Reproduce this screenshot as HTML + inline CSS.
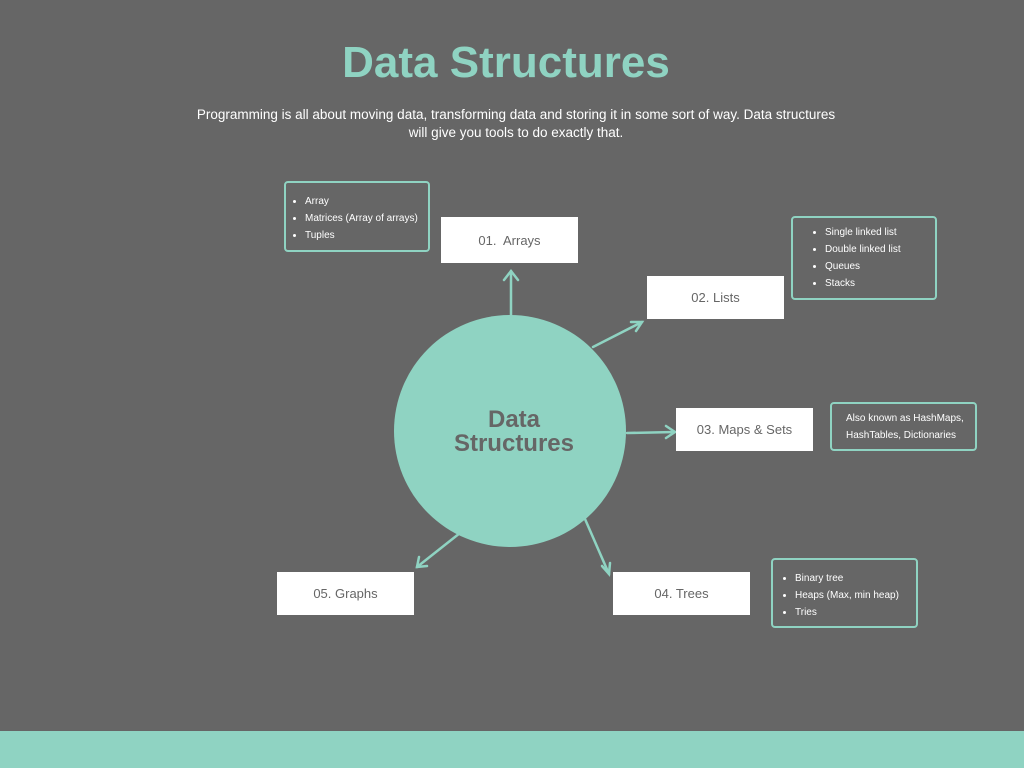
<!DOCTYPE html>
<html><head><style>
body{margin:0;width:1024px;height:768px;background:#666666;position:relative;overflow:hidden;font-family:"Liberation Sans",sans-serif}
.a{position:absolute}
.box{position:absolute;background:#fff;color:#666;font-size:13px;display:flex;align-items:center;justify-content:center}
.ol{position:absolute;border:2px solid #8fd3c2;border-radius:4px;box-sizing:border-box;color:#fff;font-size:10px}
.ol ul{margin:0;padding:0 0 0 19px;line-height:17px}
</style></head><body>
<div class="a" style="left:0;top:38px;width:1012px;text-align:center;font-size:44px;font-weight:bold;color:#8fd3c2">Data Structures</div>
<div class="a" style="left:186px;top:106px;width:660px;text-align:center;font-size:13.5px;color:#fff;line-height:18px">Programming is all about moving data, transforming data and storing it in some sort of way. Data structures will give you tools to do exactly that.</div>
<svg class="a" style="left:0;top:0" width="1024" height="768">
<circle cx="510" cy="431" r="116" fill="#8fd3c2"/>
<g stroke="#8fd3c2" stroke-width="2.5" fill="none" stroke-linecap="round">
<line x1="511" y1="315" x2="511" y2="271"/><polyline points="504,280 511,271 518,280"/>
<line x1="593" y1="347" x2="642" y2="322"/><polyline points="631,322 642,322 636,331"/>
<line x1="627" y1="433" x2="675" y2="432"/><polyline points="666,426 675,432 666,438"/>
<line x1="585" y1="519" x2="609" y2="574"/><polyline points="602,566 609,574 610,563"/>
<line x1="460" y1="533" x2="417" y2="567"/><polyline points="419,557 417,567 427,566"/>
</g>
<text x="514" y="427" text-anchor="middle" font-family="Liberation Sans" font-weight="bold" font-size="24" fill="#666">Data</text>
<text x="514" y="451" text-anchor="middle" font-family="Liberation Sans" font-weight="bold" font-size="24" fill="#666">Structures</text>
</svg>
<div class="box" style="left:441px;top:217px;width:137px;height:46px">01.&nbsp; Arrays</div>
<div class="box" style="left:647px;top:276px;width:137px;height:43px">02. Lists</div>
<div class="box" style="left:676px;top:408px;width:137px;height:43px">03. Maps &amp; Sets</div>
<div class="box" style="left:613px;top:572px;width:137px;height:43px">04. Trees</div>
<div class="box" style="left:277px;top:572px;width:137px;height:43px">05. Graphs</div>
<div class="ol" style="left:284px;top:181px;width:146px;height:71px;padding-top:10px"><ul><li>Array</li><li>Matrices (Array of arrays)</li><li>Tuples</li></ul></div>
<div class="ol" style="left:791px;top:216px;width:146px;height:84px;padding-top:6px"><ul style="padding-left:32px"><li>Single linked list</li><li>Double linked list</li><li>Queues</li><li>Stacks</li></ul></div>
<div class="ol" style="left:830px;top:402px;width:147px;height:49px;padding:6px 0 0 14px;line-height:17px">Also known as HashMaps, HashTables, Dictionaries</div>
<div class="ol" style="left:771px;top:558px;width:147px;height:70px;padding-top:10px"><ul style="padding-left:22px"><li>Binary tree</li><li>Heaps (Max, min heap)</li><li>Tries</li></ul></div>
<div class="a" style="left:0;top:731px;width:1024px;height:37px;background:#8fd3c2"></div>
</body></html>
